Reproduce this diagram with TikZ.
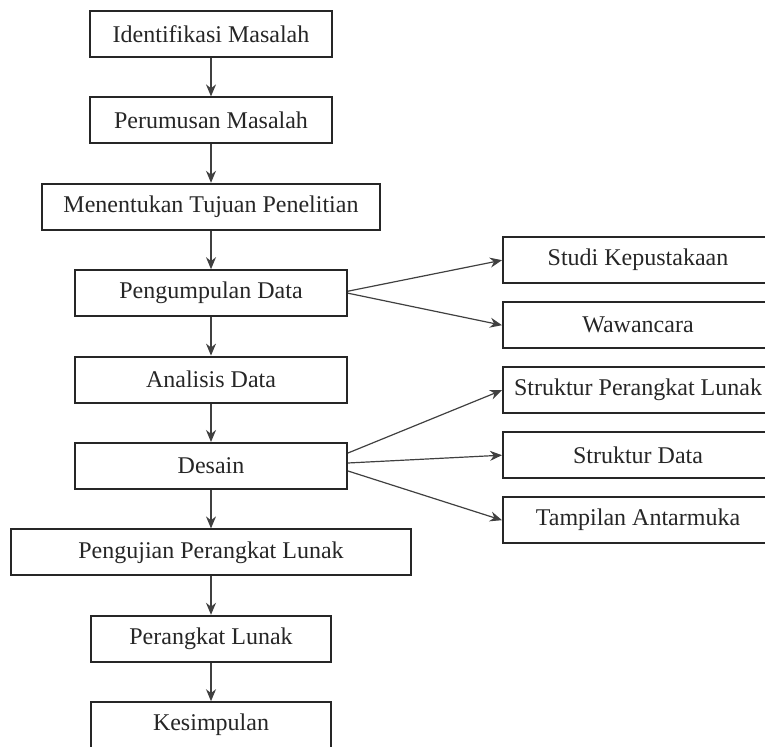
\documentclass[tikz,border=0pt]{standalone}
\usepackage{fontspec}
\setmainfont{Liberation Serif}
\usetikzlibrary{positioning,arrows.meta}
\tikzset{
>={Stealth[length=6pt,width=5pt]},
node distance=19.2pt,
box/.style={draw=black!85, line width=1pt, minimum height=23pt,
  font=\fontsize{12}{14}\selectfont, text=black!85},
flow/.style={->, draw=black!75, line width=0.6pt},
}

\begin{document}
\begin{tikzpicture}
        \useasboundingbox (0,0) rectangle (382.5pt,-373.5pt);
        \clip (0,0) rectangle (382.5pt,-373.5pt);
        % alur utama
        \node[box,minimum width=121pt] (im) at (105.5pt,-17pt) {Identifikasi Masalah};
        \node[box,minimum width=121pt,below=of im] (pm) {Perumusan Masalah};
        \node[box,minimum width=169pt,below=of pm] (tp) {Menentukan Tujuan Penelitian};
        \node[box,minimum width=136pt,below=of tp] (pd) {Pengumpulan Data};
        \node[box,minimum width=136pt,below=of pd] (ad) {Analisis Data};
        \node[box,minimum width=136pt,below=of ad] (ds) {Desain};
        \node[box,minimum width=200pt,below=of ds] (up) {Pengujian Perangkat Lunak};
        \node[box,minimum width=120pt,below=of up] (pl) {Perangkat Lunak};
        \node[box,minimum width=120pt,below=of pl] (ks) {Kesimpulan};

        % cabang kanan
        \node[box,minimum width=135pt,right=77pt of pd,yshift=16.5pt] (sk) {Studi Kepustakaan};
        \node[box,minimum width=135pt,below=8.5pt of sk] (ww) {Wawancara};
        \node[box,minimum width=135pt,below=8.5pt of ww] (sp) {Struktur Perangkat Lunak};
        \node[box,minimum width=135pt,below=8.5pt of sp] (sd) {Struktur Data};
        \node[box,minimum width=135pt,below=8.5pt of sd] (ta) {Tampilan Antarmuka};

        \draw[flow] (im) -- (pm);
        \draw[flow] (pm) -- (tp);
        \draw[flow] (tp) -- (pd);
        \draw[flow] (pd) -- (ad);
        \draw[flow] (ad) -- (ds);
        \draw[flow] (ds) -- (up);
        \draw[flow] (up) -- (pl);
        \draw[flow] (pl) -- (ks);

        \draw[flow] ([yshift=1pt]pd.east) -- (sk.west);
        \draw[flow] ([yshift=0pt]pd.east) -- (ww.west);
        \draw[flow] ([yshift=6.5pt]ds.east) -- (sp.west);
        \draw[flow] ([yshift=1.5pt]ds.east) -- (sd.west);
        \draw[flow] ([yshift=-2.5pt]ds.east) -- (ta.west);
    \end{tikzpicture}
\end{document}
